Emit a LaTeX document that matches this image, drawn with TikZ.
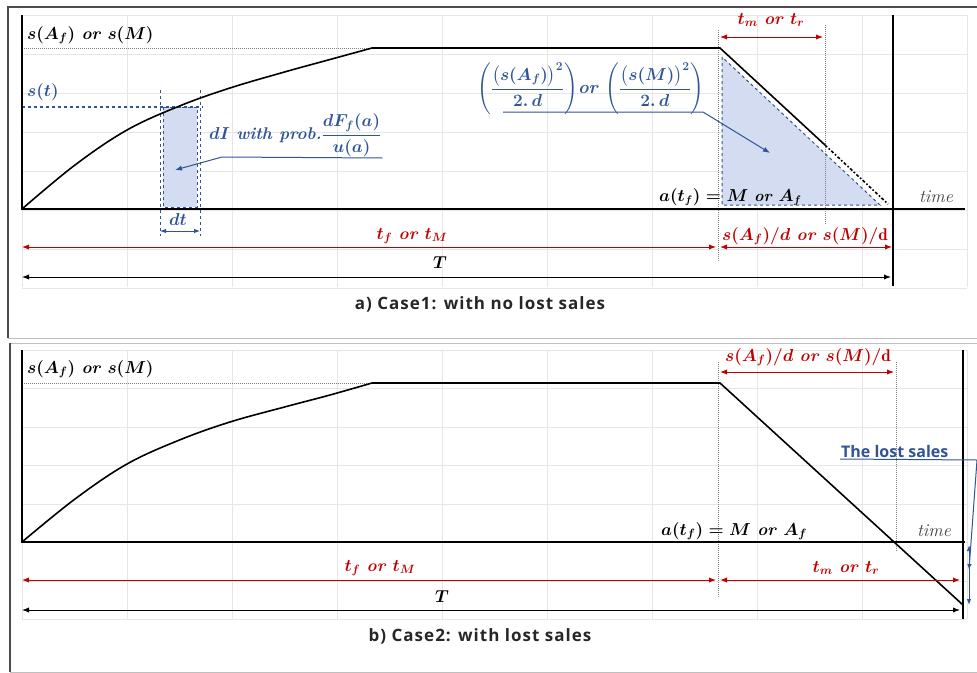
\documentclass[tikz,border=0pt]{standalone}
\usepackage{amsmath}
\usepackage{fontspec}
\newfontfamily\capfont[LetterSpace=6]{Open Sans}
\newfontfamily\lostfont{Open Sans}
\usetikzlibrary{arrows.meta}

\definecolor{lblue}{HTML}{2F5597}
\definecolor{dred}{HTML}{C00000}
\definecolor{tintblue}{HTML}{D3DCF0}
\definecolor{gridc}{HTML}{E6E6E6}

\begin{document}
\begin{tikzpicture}[x=1pt, y=-1pt,
  gridline/.style={gridc, line width=1pt},
  axis/.style={black, line width=1.8pt},
  curve/.style={black, line width=1.6pt},
  guide/.style={gray, densely dotted, line width=1pt},
  reddim/.style={dred, line width=1pt, {Latex[length=7pt]}-{Latex[length=7pt]}},
  blkdim/.style={black, line width=1pt, {Latex[length=7pt]}-{Latex[length=7pt]}},
  bluedim/.style={lblue, line width=1pt, {Latex[length=6pt]}-{Latex[length=6pt]}},
  mlbl/.style={font=\fontsize{17}{19}\selectfont\bfseries\boldmath, inner sep=1pt},
  caption/.style={font=\capfont\fontsize{17}{19}\selectfont\bfseries, text=black!85},
  timelbl/.style={font=\fontsize{18}{20}\selectfont\itshape, text=black!75, inner sep=1pt}]
  \useasboundingbox (0,0) rectangle (977,672);
  % frames of the two panels
  \draw[black!25, line width=1pt] (8,7) rectangle (977,338);
  \draw[black!25, line width=1pt] (10,343) rectangle (977,672);
  \draw[black!70, line width=1.2pt] (8,338) -- (8,7) -- (977,7);
  \draw[black!70, line width=1.2pt] (10,672) -- (10,343);
  % grids
  \foreach \x in {22,127,...,967} {
    \draw[gridline] (\x,15) -- (\x,287);
    \draw[gridline] (\x,350) -- (\x,619);
  }
  \foreach \k in {0,...,7} {
    \draw[gridline] (22,15+39*\k) -- (967,15+39*\k);
    \draw[gridline] (22,350+38.5*\k) -- (967,350+38.5*\k);
  }

  %% ---------- a) no lost sales ----------
  \coordinate (a0) at (22,209);
  \coordinate (aM) at (720,48);
  \coordinate (aK) at (825,145);
  % shaded strip and triangle
  \fill[tintblue] (163,107) rectangle (197,207);
  \draw[lblue, dashed, line width=1pt] (163,107) rectangle (197,207);
  \fill[tintblue] (722,57) -- (722,205) -- (880,205) -- cycle;
  \draw[lblue, dashed, line width=1pt] (722,57) -- (722,205) -- (880,205) -- cycle;
  % guides
  \draw[guide] (22,48) -- (372,48);
  \draw[guide] (718,30) -- (718,262);
  \draw[guide] (825,25) -- (825,225);
  \draw[lblue, dashed, line width=1.2pt] (22,107) -- (203,107);
  \draw[lblue, dashed, line width=1pt] (160,90) -- (160,236);
  \draw[lblue, dashed, line width=1pt] (200,90) -- (200,236);
  % axes
  \draw[axis] (22,15) -- (a0) -- (965,209);
  \draw[axis] (893,15) -- (893,286);
  % inventory curve
  \draw[curve] plot[smooth, tension=0.6] coordinates {(22,209) (75,165) (127,130) (179.5,106) (230,88) (284.5,72) (330,59.5) (372,48)}
    -- (aM) -- (aK);
  \draw[curve, dash dot] (aK) -- (888,204);
  % labels
  \node[mlbl, anchor=west] (aLvl) at (26,35) {$s(A_f)$ \textit{or} $s(M)$};
  \node[mlbl, anchor=west, text=lblue] (aSt) at (26,92) {$s(t)$};
  \node[mlbl, text=lblue] (aDt) at (178,219) {$dt$};
  \coordinate (aDtL) at (160,231);
  \coordinate (aDtR) at (200,231);
  \draw[bluedim] (aDtL) -- (aDtR);
  \node[mlbl, text=lblue, anchor=south west] (aProb) at (208,158) {$dI$ \textit{with prob.}$\dfrac{dF_f(a)}{u(a)}$};
  \coordinate (aProbTip) at (175,170);
  \draw[lblue, line width=1pt, -{Latex[length=7pt]}] (aProb.south east) -- (222,157) -- (aProbTip);
  \node[mlbl, text=lblue, anchor=south west, font=\fontsize{18}{20}\selectfont\bfseries\boldmath] (aForm) at (476,116)
    {$\left(\dfrac{\big(s(A_f)\big)^2}{2.\,d}\right)$\textit{or} $\left(\dfrac{\big(s(M)\big)^2}{2.\,d}\right)$};
  \coordinate (aFormL) at (503,112);
  \coordinate (aFormR) at (703,112);
  \coordinate (aFormTip) at (770,153);
  \draw[lblue, line width=1pt, -{Latex[length=7pt]}] (aFormL) -- (aFormR) -- (aFormTip);
  \node[mlbl, anchor=west, font=\fontsize{16}{18}\selectfont\bfseries\boldmath] (aAtf) at (658,197) {$a(t_f) = M$ \textit{or} $A_f$};
  \node[timelbl] (aTime) at (936,197) {time};
  % dimension arrows
  \coordinate (aTm1) at (720,37);
  \coordinate (aTm2) at (823,37);
  \draw[reddim] (aTm1) -- (aTm2);
  \node[mlbl, text=dred] (aTmLbl) at (771,20) {$t_m$ \textit{or} $t_r$};
  \coordinate (aTf1) at (22,247);
  \coordinate (aTf2) at (716,247);
  \coordinate (aSd2) at (892,247);
  \draw[reddim] (aTf1) -- (aTf2);
  \draw[reddim] (720,247) -- (aSd2);
  \node[mlbl, text=dred] (aTfLbl) at (412,236) {$t_f$ \textit{or} $t_M$};
  \node[mlbl, text=dred] (aSdLbl) at (805,236) {$s(A_f)/d$ \textit{or} $s(M)/\mathrm{d}$};
  \coordinate (aT1) at (22,277);
  \coordinate (aT2) at (891,277);
  \draw[blkdim] (aT1) -- (aT2);
  \node[mlbl] (aTLbl) at (440,263) {$T$};
  \node[caption] (aCap) at (480,304) {a) Case1: with no lost sales};

  %% ---------- b) with lost sales ----------
  \coordinate (b0) at (22,542);
  \coordinate (bM) at (720,383);
  \coordinate (bK) at (963,605);
  \draw[guide] (22,383) -- (372,383);
  \draw[guide] (718,362) -- (718,598);
  \draw[guide] (896,362) -- (896,552);
  \draw[axis] (22,350) -- (b0) -- (965,542);
  \draw[axis] (963,350) -- (963,619);
  \draw[curve] plot[smooth, tension=0.6] coordinates {(22,542) (75,499) (127,464) (179.5,440) (230,422) (284.5,407) (330,395) (372,383)}
    -- (bM) -- (bK);
  \node[mlbl, anchor=west] (bLvl) at (26,369) {$s(A_f)$ \textit{or} $s(M)$};
  \node[mlbl, anchor=west] (bAtf) at (660,531) {$a(t_f) = M$ \textit{or} $A_f$};
  \node[timelbl] (bTime) at (934,531) {time};
  \coordinate (bSd1) at (720,372);
  \coordinate (bSd2) at (894,372);
  \draw[reddim] (bSd1) -- (bSd2);
  \node[mlbl, text=dred] (bSdLbl) at (808,357) {$s(A_f)/d$ \textit{or} $s(M)/\mathrm{d}$};
  \coordinate (bTf1) at (22,580);
  \coordinate (bTf2) at (716,580);
  \coordinate (bTm2) at (960,580);
  \draw[reddim] (bTf1) -- (bTf2);
  \draw[reddim] (720,580) -- (bTm2);
  \node[mlbl, text=dred] (bTfLbl) at (380,568) {$t_f$ \textit{or} $t_M$};
  \node[mlbl, text=dred] (bTmLbl) at (846,568) {$t_m$ \textit{or} $t_r$};
  \coordinate (bT1) at (22,610);
  \coordinate (bT2) at (960,610);
  \draw[blkdim] (bT1) -- (bT2);
  \node[mlbl] (bTLbl) at (442,597) {$T$};
  % lost sales
  \coordinate (bLs1) at (969,545);
  \coordinate (bLs2) at (969,605);
  \draw[bluedim] (bLs1) -- (bLs2);
  \node[font=\lostfont\fontsize{16}{18}\selectfont\bfseries, text=lblue, anchor=south west, inner sep=1pt] (bLost) at (840,459) {The lost sales};
  \coordinate (bLsTip) at (969,570);
  \draw[lblue, line width=1pt, -{Latex[length=6pt]}] (bLost.south west) -- (977,460) -- (bLsTip);
  \node[caption] (bCap) at (480,636) {b) Case2: with lost sales};
\end{tikzpicture}
\end{document}
